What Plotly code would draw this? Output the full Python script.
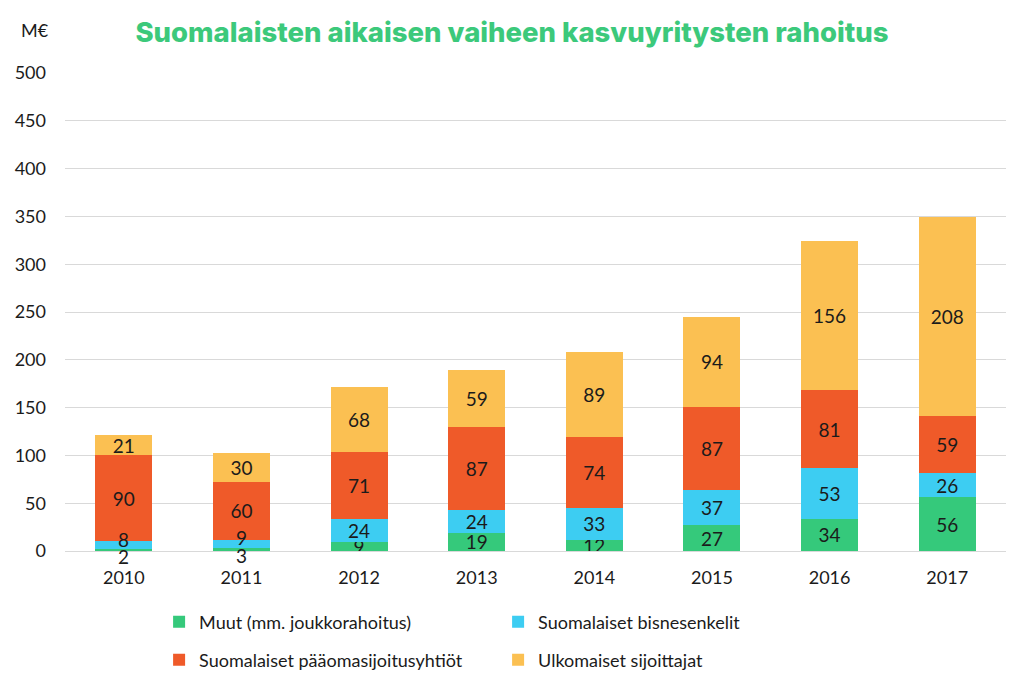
import plotly.graph_objects as go

years = ["2010", "2011", "2012", "2013", "2014", "2015", "2016", "2017"]
muut = [2, 3, 9, 19, 12, 27, 34, 56]
enkelit = [8, 9, 24, 24, 33, 37, 53, 26]
paaoma = [90, 60, 71, 87, 74, 87, 81, 59]
ulkomaiset = [21, 30, 68, 59, 89, 94, 156, 208]

series = [
    ("Muut (mm. joukkorahoitus)", muut, "#35C97B", "legend"),
    ("Suomalaiset bisnesenkelit", enkelit, "#3DCDF2", "legend"),
    ("Suomalaiset pääomasijoitusyhtiöt", paaoma, "#EF5A29", "legend2"),
    ("Ulkomaiset sijoittajat", ulkomaiset, "#FBC052", "legend2"),
]

LABEL_FONT = dict(family="Lato", size=19, color="#1b1b1b")

# segments too thin to hold their own label get a label nudged off-centre
small = [m < 10 and e < 10 for m, e in zip(muut, enkelit)]

fig = go.Figure()
annotations = []
for idx, (name, vals, color, lg) in enumerate(series):
    txt = []
    for i, v in enumerate(vals):
        if idx < 2 and small[i]:
            txt.append("")
        else:
            txt.append(str(v))
    fig.add_trace(go.Bar(
        x=years, y=vals, name=name,
        marker=dict(color=color, line=dict(width=0)),
        text=txt,
        textposition="inside", insidetextanchor="middle", textangle=0,
        textfont=LABEL_FONT,
        constraintext="none",
        legend=lg,
    ))

for i, yr in enumerate(years):
    if small[i]:
        # x given as category index on the category axis
        annotations.append(dict(x=i, y=muut[i] / 2, xref="x", yref="y", text=str(muut[i]),
                                showarrow=False, yshift=-6, font=LABEL_FONT))
        annotations.append(dict(x=i, y=muut[i] + enkelit[i] / 2, xref="x", yref="y",
                                text=str(enkelit[i]), showarrow=False, yshift=6, font=LABEL_FONT))

annotations.append(dict(
    text="M€", xref="paper", yref="paper", x=-0.032, y=1.09,
    xanchor="center", yanchor="middle", showarrow=False,
    font=dict(family="Lato", size=18, color="#1b1b1b"),
))

legend_common = dict(
    orientation="h", xref="paper", yref="paper", xanchor="left", yanchor="middle",
    font=dict(family="Lato", size=18, color="#1b1b1b"),
    entrywidth=294, entrywidthmode="pixels", bgcolor="rgba(0,0,0,0)",
    itemclick=False, traceorder="normal", itemwidth=30,
)

fig.update_layout(
    width=1024, height=686,
    barmode="stack", bargap=0.515,
    plot_bgcolor="white", paper_bgcolor="white",
    margin=dict(l=65, r=18, t=73, b=135, autoexpand=False),
    uniformtext=dict(minsize=19, mode="show"),
    title=dict(
        text="Suomalaisten aikaisen vaiheen kasvuyritysten rahoitus",
        x=0.5, xanchor="center", y=0.953, yanchor="middle",
        font=dict(family="Inter", size=27.5, color="#3CC97B", weight=800),
    ),
    xaxis=dict(
        type="category", range=[-0.5, len(years) - 0.5],
        showgrid=False, showline=False, ticks="", ticklabelstandoff=14,
        tickfont=dict(family="Lato", size=18, color="#1b1b1b"),
    ),
    yaxis=dict(
        range=[0, 500], dtick=50, showgrid=True, gridcolor="#d9d9d9", gridwidth=1,
        zeroline=True, zerolinecolor="#d9d9d9", zerolinewidth=1,
        showline=False, ticks="", ticklabelstandoff=18,
        tickfont=dict(family="Lato", size=18, color="#1b1b1b"),
    ),
    legend=dict(x=0.1, y=-0.1485, **legend_common),
    legend2=dict(x=0.1, y=-0.228, **legend_common),
    showlegend=True,
    annotations=annotations,
)

fig.write_html("out.html")
